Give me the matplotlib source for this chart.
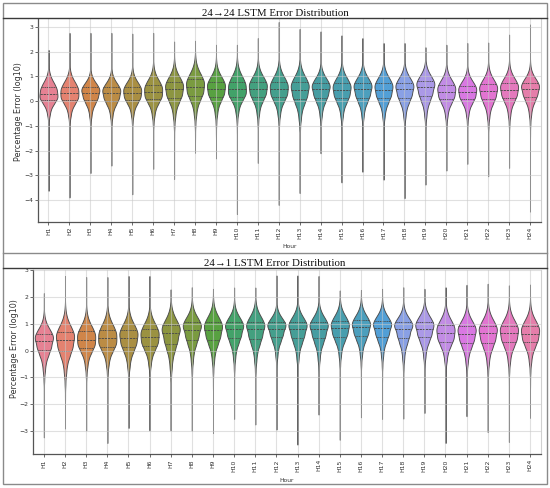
import numpy as np
import pandas as pd
import matplotlib
matplotlib.use("Agg")
import matplotlib.pyplot as plt
from matplotlib.lines import Line2D
from matplotlib.patches import Rectangle
import seaborn as sns

# ---------------- data ----------------
hours = [f"H{i}" for i in range(1, 25)]

# 24->24 LSTM (top panel): quartiles and extremes of log10 percentage error
top_q1 = [0.03, 0.03, 0.04, 0.02, 0.05, 0.07, 0.13, 0.22, 0.18, 0.18, 0.18, 0.15,
          0.09, 0.14, 0.11, 0.13, 0.12, 0.13, 0.19, 0.07, 0.07, 0.07, 0.13, 0.15]
top_med = [0.29, 0.31, 0.33, 0.31, 0.33, 0.37, 0.47, 0.57, 0.50, 0.48, 0.50, 0.47,
           0.46, 0.47, 0.44, 0.47, 0.46, 0.47, 0.55, 0.38, 0.36, 0.40, 0.45, 0.47]
top_q3 = [0.57, 0.59, 0.57, 0.56, 0.59, 0.66, 0.77, 0.89, 0.79, 0.79, 0.79, 0.77,
          0.77, 0.74, 0.73, 0.75, 0.75, 0.75, 0.83, 0.66, 0.62, 0.68, 0.73, 0.73]
top_min = [-3.63, -3.90, -2.91, -2.61, -3.77, -2.74, -3.15, -2.09, -2.32, -4.57, -2.50, -4.20,
           -3.72, -2.11, -3.29, -2.86, -3.18, -3.93, -3.38, -2.81, -2.54, -3.04, -2.70, -4.47]
top_max = [2.07, 2.76, 2.76, 2.76, 2.73, 2.76, 2.41, 2.44, 2.28, 2.28, 2.55, 3.20,
           2.92, 2.82, 2.66, 2.55, 2.35, 2.35, 2.18, 2.28, 2.35, 2.37, 2.69, 3.10]

# 24->1 LSTM (bottom panel)
bot_q1 = [0.01, 0.00, 0.10, 0.14, 0.14, 0.18, 0.24, 0.41, 0.40, 0.45, 0.42, 0.50,
          0.45, 0.45, 0.51, 0.54, 0.52, 0.46, 0.49, 0.33, 0.29, 0.29, 0.31, 0.30]
bot_med = [0.35, 0.38, 0.41, 0.45, 0.48, 0.50, 0.64, 0.78, 0.76, 0.79, 0.79, 0.82,
           0.80, 0.80, 0.83, 0.86, 0.85, 0.81, 0.82, 0.65, 0.63, 0.64, 0.64, 0.63]
bot_q3 = [0.62, 0.70, 0.71, 0.76, 0.78, 0.80, 0.94, 1.05, 1.05, 1.05, 1.07, 1.05,
          1.06, 1.06, 1.10, 1.12, 1.10, 1.05, 1.08, 0.94, 0.91, 0.93, 0.93, 0.92]
bot_min = [-3.24, -2.91, -2.98, -3.45, -2.89, -2.98, -2.98, -2.99, -3.08, -2.55, -2.76, -2.95,
           -3.51, -2.39, -3.33, -2.49, -2.55, -2.54, -2.33, -3.45, -2.45, -3.04, -3.41, -2.51]
bot_max = [2.14, 2.78, 2.74, 2.74, 2.78, 2.78, 2.28, 2.36, 2.30, 2.35, 2.35, 2.80,
           2.80, 2.78, 2.24, 2.26, 2.30, 2.36, 2.30, 2.36, 2.45, 2.49, 2.43, 2.46]

# common body shape of a violin: quantile levels and their
# offsets from the median, in half-IQR units of the respective side
shape_probs = [0.001, 0.005, 0.02, 0.06, 0.12, 0.25, 0.5, 0.75, 0.88, 0.95, 0.985, 0.997, 0.999]
shape_units = [-6.0, -4.6, -3.5, -2.55, -1.8, -1.0, 0.0, 1.0, 1.7, 2.35, 3.05, 3.8, 4.4]

N_PER_HOUR = 3000


def build_table(q1, med, q3, vmin, vmax):
    rows_h, rows_v = [], []
    p_all = np.linspace(0.0, 1.0, N_PER_HOUR)
    for h, a, m, b, lo, hi in zip(hours, q1, med, q3, vmin, vmax):
        vals = [lo]
        for u in shape_units:
            vals.append(m + u * ((m - a) if u < 0 else (b - m)))
        vals.append(hi)
        probs = [0.0] + shape_probs + [1.0]
        v = np.interp(p_all, probs, vals)
        rows_h += [h] * len(v)
        rows_v += list(v)
    return pd.DataFrame({"Hour": rows_h, "Error": rows_v})


df_top = build_table(top_q1, top_med, top_q3, top_min, top_max)
df_bot = build_table(bot_q1, bot_med, bot_q3, bot_min, bot_max)

# ---------------- figure ----------------
W, H = 550, 488
fig = plt.figure(figsize=(W / 100, H / 100), dpi=100)


def fx(px):
    return px / W


def fy(py):
    return 1 - py / H


palette = sns.color_palette("husl", 24)

panels = [
    dict(df=df_top, rect=(38, 19, 540.5, 222), ylim=(-4.89, 3.32), yticks=range(-4, 4),
         ylab_xy=(-0.038, 0.543), xlab_y=-0.123),
    dict(df=df_bot, rect=(33.3, 269.5, 540.6, 454.3), ylim=(-3.87, 3.02), yticks=range(-3, 4),
         ylab_xy=(-0.038, 0.571), xlab_y=-0.143),
]

for p in panels:
    l, t, r, b = p["rect"]
    ax = fig.add_axes([fx(l), fy(b), fx(r) - fx(l), fy(t) - fy(b)])
    sns.violinplot(data=p["df"], x="Hour", y="Error", hue="Hour", palette=palette,
                   legend=False, inner="quart", cut=0, density_norm="width",
                   width=0.86, linewidth=0.65, linecolor="#4a4a4a", order=hours, ax=ax)
    ax.set_xlim(-0.5, 23.5)
    ax.set_ylim(*p["ylim"])
    ax.set_yticks(list(p["yticks"]))
    ax.set_axisbelow(False)
    ax.grid(True, color="#c8c8c8", alpha=0.55, linewidth=0.8)
    ax.tick_params(axis="x", labelrotation=90, labelsize=4.4, length=2, width=0.5,
                   pad=1.5, colors="#333333")
    ax.tick_params(axis="y", labelsize=4.4, length=2, width=0.5, pad=1.5, colors="#333333")
    for s in ("left", "bottom"):
        ax.spines[s].set_color("#555555")
        ax.spines[s].set_linewidth(0.9)
    ax.spines["top"].set_visible(False)
    ax.spines["right"].set_color("#d0d0d0")
    ax.spines["right"].set_linewidth(0.8)
    ax.set_xlabel("Hour", fontsize=4.3, color="#333333", va="center")
    ax.xaxis.set_label_coords(0.5, p["xlab_y"])
    ax.set_ylabel("Percentage Error (log10)", fontsize=5.8, color="#333333", va="center")
    ax.yaxis.set_label_coords(*p["ylab_xy"])

# ---------------- frames and title bars ----------------
fig.add_artist(Rectangle((fx(3), fy(484)), fx(547) - fx(3), fy(3) - fy(484),
                         transform=fig.transFigure, fill=False, edgecolor="#8a8a8a", lw=1.0))
for y, c in [(18, "#3a3a3a"), (253, "#8a8a8a"), (268, "#3a3a3a")]:
    fig.add_artist(Line2D([fx(3), fx(547)], [fy(y), fy(y)], transform=fig.transFigure,
                          color=c, lw=1.0))

title_font = ["Liberation Serif", "DejaVu Serif"]
fig.text(0.5, fy(15.5), "24\u219224 LSTM Error Distribution", ha="center", va="baseline",
         fontsize=7.8, family=title_font, color="#111111")
fig.text(0.5, fy(265.5), "24\u21921 LSTM Error Distribution", ha="center", va="baseline",
         fontsize=7.8, family=title_font, color="#111111")

fig.savefig("out.png", dpi=100)
